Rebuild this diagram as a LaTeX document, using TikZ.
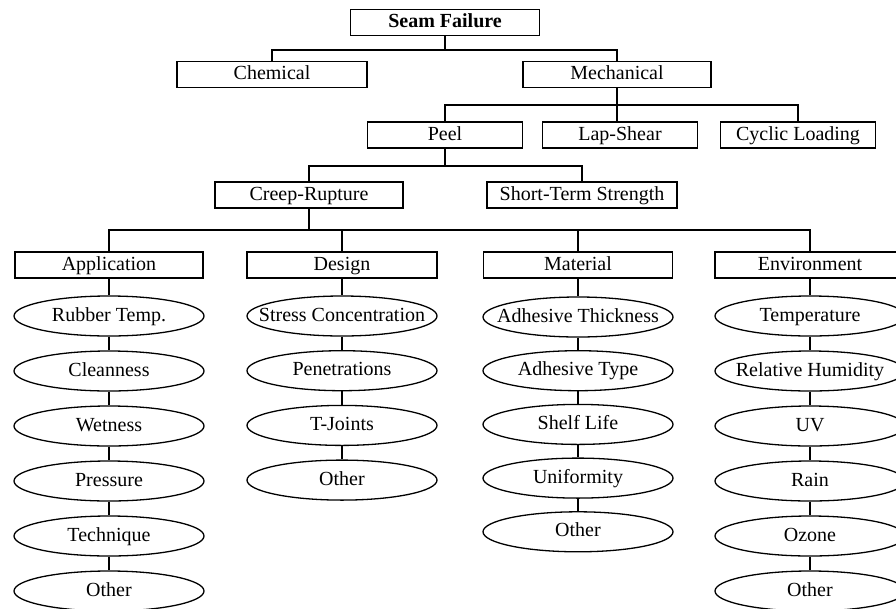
\documentclass[tikz,border=0pt]{standalone}
\usepackage{fontspec}
\setmainfont{Liberation Serif}
\usetikzlibrary{shapes.geometric}

\begin{document}
\begin{tikzpicture}[x=1pt, y=-1pt, line width=1.3pt,
    box/.style={draw, rectangle, minimum height=26pt, inner sep=0pt, text height=14pt, text depth=4pt, font=\fontsize{20}{24}\selectfont},
    oval/.style={draw, ellipse, minimum width=190pt, minimum height=40pt, inner sep=0pt, text height=14pt, text depth=4pt, font=\fontsize{20}{24}\selectfont}]
    \clip (0,0) rectangle (896,608);
    %\draw[gray, dashed] (0,0) grid[step=50] (896,608);

    \node[box, minimum width=189pt, font=\fontsize{20}{24}\selectfont\bfseries] (seam) at (445,22.5) {Seam Failure};
    \node[box, minimum width=190pt] (chem) at (272,74.5) {Chemical};
    \node[box, minimum width=188pt] (mech) at (617,74.5) {Mechanical};

    \node[box, minimum width=155pt] (peel) at (445,135) {Peel};
    \node[box, minimum width=155pt] (lap) at (620,135) {Lap-Shear};
    \node[box, minimum width=155pt] (cyc) at (798,135) {Cyclic Loading};

    \node[box, minimum width=188pt] (creep) at (309,195) {Creep-Rupture};
    \node[box, minimum width=190pt] (short) at (582,195) {Short-Term Strength};

    \node[box, minimum width=188pt] (app) at (109,265) {Application};
    \node[box, minimum width=190pt] (des) at (342,265) {Design};
    \node[box, minimum width=189pt] (mat) at (578,265) {Material};
    \node[box, minimum width=190pt] (env) at (810,265) {Environment};

    % buses
    \coordinate (b1) at (445,50);
    \coordinate (b2) at (617,105);
    \coordinate (b3) at (445,166);
    \coordinate (b4) at (309,230);

    \draw (seam.south) -- (b1);
    \draw (chem.north) |- (b1) -| (mech.north);

    \draw (mech.south) -- (mech.south |- lap.north);
    \draw (peel.north) |- (b2) -| (cyc.north);

    \draw (peel.south) -- (b3);
    \draw (creep.north) |- (b3) -| (short.north);

    \draw (creep.south) -- (b4);
    \draw (app.north) |- (b4) -| (env.north);
    \draw (des.north) |- (b4);
    \draw (mat.north) |- (b4);

    % factors
    \foreach \txt [count=\i] in {Rubber Temp., Cleanness, Wetness, Pressure, Technique, Other}
        \node[oval] (app\i) at (109,{316+55*(\i-1)}) {\makebox[0pt]{\txt}};
    \foreach \txt [count=\i] in {Stress Concentration, Penetrations, T-Joints, Other}
        \node[oval] (des\i) at (342,{316+54.7*(\i-1)}) {\makebox[0pt]{\txt}};
    \foreach \txt [count=\i] in {Adhesive Thickness, Adhesive Type, Shelf Life, Uniformity, Other}
        \node[oval] (mat\i) at (578,{317+53.7*(\i-1)}) {\makebox[0pt]{\txt}};
    \foreach \txt [count=\i] in {Temperature, Relative Humidity, UV, Rain, Ozone, Other}
        \node[oval] (env\i) at (810,{316+55*(\i-1)}) {\makebox[0pt]{\txt}};

    \draw (app.south) -- (app1.north);
    \draw (des.south) -- (des1.north);
    \draw (mat.south) -- (mat1.north);
    \draw (env.south) -- (env1.north);
    \foreach \i [remember=\i as \j (initially 1)] in {2,...,6}
        \draw (app\j.south) -- (app\i.north);
    \foreach \i [remember=\i as \j (initially 1)] in {2,...,4}
        \draw (des\j.south) -- (des\i.north);
    \foreach \i [remember=\i as \j (initially 1)] in {2,...,5}
        \draw (mat\j.south) -- (mat\i.north);
    \foreach \i [remember=\i as \j (initially 1)] in {2,...,6}
        \draw (env\j.south) -- (env\i.north);
\end{tikzpicture}
\end{document}
